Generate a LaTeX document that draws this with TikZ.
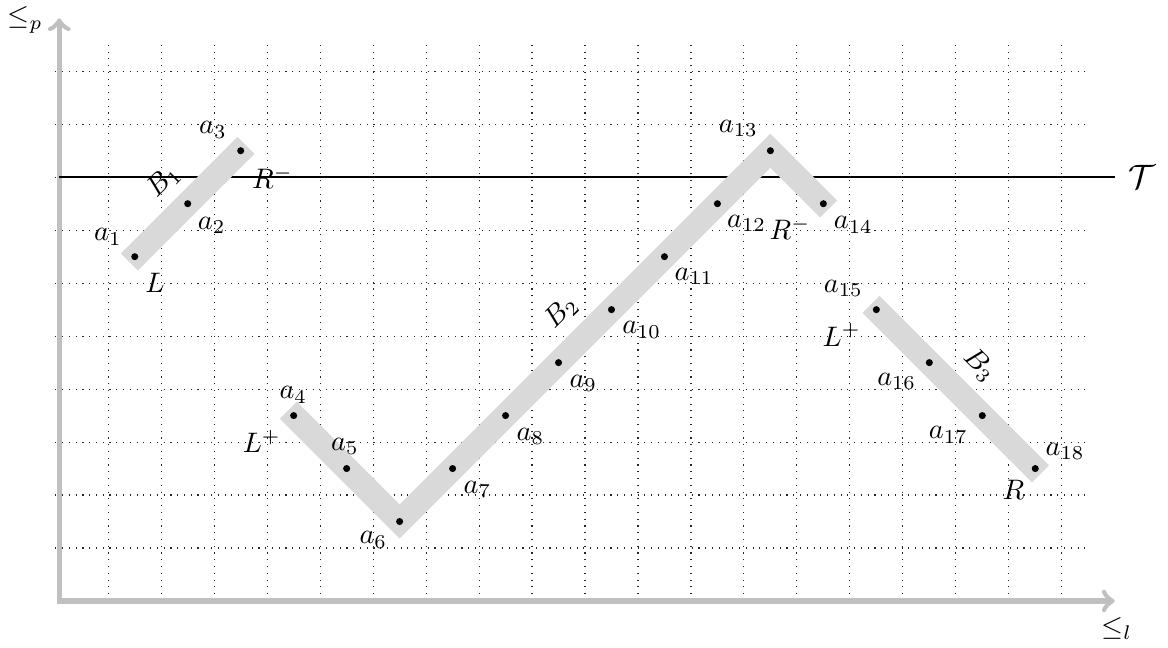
\documentclass[tikz,border=0pt]{standalone}
\usetikzlibrary{calc}
\definecolor{axisgray}{HTML}{C0C0C0}
\definecolor{bandgray}{HTML}{D9D9D9}
\begin{document}
\begin{tikzpicture}[x=0.66cm,y=0.66cm,
  gridline/.style={dotted,line width=0.4pt,black!85},
  axisline/.style={axisgray,line width=1.8pt,line join=miter},
  tline/.style={line width=0.7pt,black},
  band/.style={bandgray,line width=8.5pt,line join=miter,line cap=butt},
  dot/.style={circle,fill=black,inner sep=0pt,minimum size=2.5pt},
  lbl/.style={inner sep=1pt}]
\useasboundingbox (-1.044,-0.887) rectangle (21.006,11.346);
\fill[white] (-1.044,-0.887) rectangle (21.006,11.346);
% grid
\foreach \y in {1,...,10} \draw[gridline] (0,\y) -- (19.5,\y);
\foreach \x in {1,...,19} \draw[gridline] (\x,0) -- (\x,10.5);
% axes
\coordinate (ytip) at (0.075,11);
\coordinate (xtip) at (20,0);
\draw[axisline,<->] (ytip) |- (xtip);
\node[lbl] (lp) at (-0.57,10.97) {$\leq_p$};
\node[lbl] (ll) at (20.04,-0.52) {$\leq_l$};
% threshold line
\coordinate (t0) at (0.075,8);
\coordinate (t1) at (20,8);
\draw[tline] (t0) -- (t1);
\node[lbl,font=\fontsize{13}{15}\selectfont] (T) at (20.52,8.0) {$\mathcal{T}$};
% points
\coordinate (a1) at (1.5,6.5);
\coordinate (a2) at (2.5,7.5);
\coordinate (a3) at (3.5,8.5);
\coordinate (a4) at (4.5,3.5);
\coordinate (a5) at (5.5,2.5);
\coordinate (a6) at (6.5,1.5);
\coordinate (a7) at (7.5,2.5);
\coordinate (a8) at (8.5,3.5);
\coordinate (a9) at (9.5,4.5);
\coordinate (a10) at (10.5,5.5);
\coordinate (a11) at (11.5,6.5);
\coordinate (a12) at (12.5,7.5);
\coordinate (a13) at (13.5,8.5);
\coordinate (a14) at (14.5,7.5);
\coordinate (a15) at (15.5,5.5);
\coordinate (a16) at (16.5,4.5);
\coordinate (a17) at (17.5,3.5);
\coordinate (a18) at (18.5,2.5);
% bands
\draw[band] ($(a1)+(-0.1,-0.1)$) -- ($(a3)+(0.1,0.1)$);
\draw[band] ($(a4)+(-0.1,0.1)$) -- (a6) -- (a13) -- ($(a14)+(0.1,-0.1)$);
\draw[band] ($(a15)+(-0.1,0.1)$) -- ($(a18)+(0.1,-0.1)$);
% dots
\foreach \i in {1,...,18} \node[dot] (d\i) at (a\i) {};
% point labels
\node[lbl] (l1) at (0.995,6.872) {$a_1$};
\node[lbl] (l2) at (2.953,7.085) {$a_2$};
\node[lbl] (l3) at (2.977,8.892) {$a_3$};
\node[lbl] (l4) at (4.493,3.889) {$a_4$};
\node[lbl] (l5) at (5.469,2.913) {$a_5$};
\node[lbl] (l6) at (6.003,1.152) {$a_6$};
\node[lbl] (l7) at (7.97,2.10) {$a_7$};
\node[lbl] (l8) at (8.97,3.10) {$a_8$};
\node[lbl] (l9) at (9.968,4.110) {$a_9$};
\node[lbl] (l10) at (11.07,5.116) {$a_{10}$};
\node[lbl] (l11) at (12.06,6.12) {$a_{11}$};
\node[lbl] (l12) at (13.05,7.13) {$a_{12}$};
\node[lbl] (l13) at (12.894,8.924) {$a_{13}$};
\node[lbl] (l14) at (15.065,7.099) {$a_{14}$};
\node[lbl] (l15) at (14.876,5.903) {$a_{15}$};
\node[lbl] (l16) at (15.884,4.14) {$a_{16}$};
\node[lbl] (l17) at (16.86,3.134) {$a_{17}$};
\node[lbl] (l18) at (19.062,2.819) {$a_{18}$};
% boundary labels
\node[lbl] (L1) at (1.882,5.998) {$L$};
\node[lbl] (Rm1) at (4.1,8.0) {$R^-$};
\node[lbl] (Lp1) at (3.897,3.007) {$L^+$};
\node[lbl] (Rm2) at (13.87,7.036) {$R^-$};
\node[lbl] (Lp2) at (14.846,5.022) {$L^+$};
\node[lbl] (R1) at (18.086,2.096) {$R$};
% block labels
\node[lbl,rotate=45] (B1) at (2.04,7.93) {$B_1$};
\node[lbl,rotate=45] (B2) at (9.55,5.45) {$B_2$};
\node[lbl,rotate=-45] (B3) at (17.45,4.45) {$B_3$};
\end{tikzpicture}
\end{document}
